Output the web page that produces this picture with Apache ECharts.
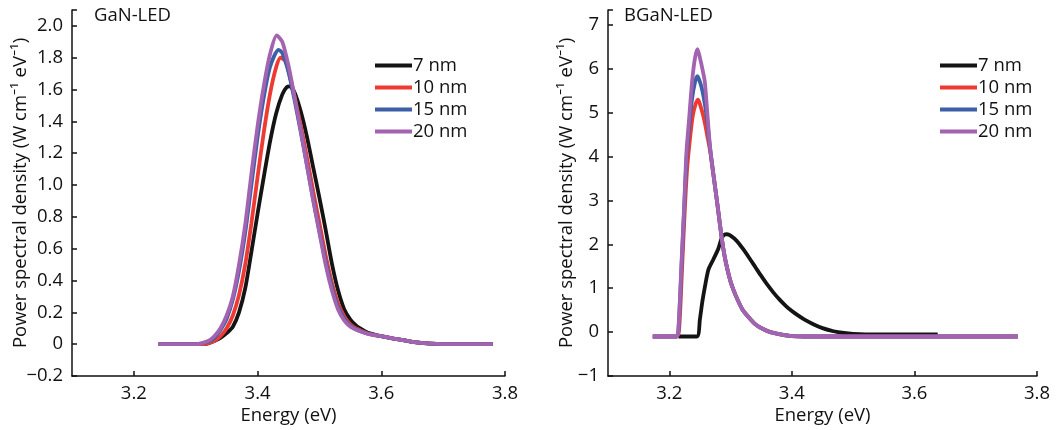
<!DOCTYPE html>
<html>
<head>
<meta charset="utf-8">
<script src="https://cdn.jsdelivr.net/npm/echarts@6/dist/echarts.min.js"></script>
<style>
html,body{margin:0;padding:0;background:#fff;}
#chart{width:1064px;height:430px;}
</style>
</head>
<body>
<div id="chart"></div>
<script>
// ---------- Data ----------
const seriesNames = ['7 nm', '10 nm', '15 nm', '20 nm'];
const seriesColors = ['#141414', '#ee3a33', '#3d5fa8', '#a263b1'];

const panelTitles = ['GaN-LED', 'BGaN-LED'];
const xTicks = [3.2, 3.4, 3.6, 3.8];
const ganYTicks = [-0.2, 0, 0.2, 0.4, 0.6, 0.8, 1.0, 1.2, 1.4, 1.6, 1.8, 2.0];
const bganYTicks = [-1, 0, 1, 2, 3, 4, 5, 6, 7];

// GaN-LED spectra [energy eV, PSD]
const gan7 = [[3.24,0],[3.31,0],[3.32,0.005],[3.33,0.02],[3.34,0.04],[3.35,0.07],[3.36,0.11],[3.37,0.20],[3.38,0.35],[3.39,0.58],[3.40,0.82],[3.41,1.05],[3.42,1.27],[3.43,1.45],[3.44,1.57],[3.447,1.615],[3.452,1.62],[3.46,1.58],[3.47,1.46],[3.48,1.30],[3.49,1.11],[3.50,0.92],[3.51,0.72],[3.52,0.51],[3.53,0.34],[3.54,0.22],[3.55,0.155],[3.56,0.115],[3.57,0.09],[3.58,0.07],[3.60,0.05],[3.62,0.035],[3.65,0.015],[3.68,0.003],[3.70,0],[3.78,0]];
const gan10 = [[3.24,0],[3.31,0],[3.33,0.02],[3.34,0.05],[3.35,0.10],[3.36,0.18],[3.37,0.31],[3.38,0.50],[3.39,0.76],[3.40,1.05],[3.41,1.33],[3.42,1.57],[3.43,1.74],[3.437,1.80],[3.445,1.78],[3.45,1.72],[3.46,1.55],[3.47,1.37],[3.48,1.17],[3.49,0.96],[3.50,0.76],[3.51,0.56],[3.52,0.39],[3.53,0.26],[3.54,0.175],[3.55,0.125],[3.56,0.097],[3.57,0.08],[3.58,0.065],[3.60,0.05],[3.62,0.035],[3.65,0.015],[3.68,0.003],[3.70,0],[3.78,0]];
const gan15 = [[3.24,0],[3.30,0],[3.32,0.015],[3.33,0.04],[3.34,0.09],[3.35,0.16],[3.36,0.28],[3.37,0.46],[3.38,0.70],[3.39,1.00],[3.40,1.30],[3.41,1.55],[3.42,1.74],[3.434,1.85],[3.44,1.83],[3.45,1.71],[3.46,1.53],[3.47,1.33],[3.48,1.12],[3.49,0.91],[3.50,0.71],[3.51,0.52],[3.52,0.36],[3.53,0.235],[3.54,0.16],[3.55,0.115],[3.56,0.092],[3.57,0.077],[3.58,0.064],[3.60,0.05],[3.62,0.035],[3.65,0.015],[3.68,0.003],[3.70,0],[3.78,0]];
const gan20 = [[3.24,0],[3.30,0],[3.32,0.02],[3.33,0.05],[3.34,0.10],[3.35,0.18],[3.36,0.30],[3.37,0.50],[3.38,0.75],[3.39,1.07],[3.40,1.37],[3.41,1.62],[3.42,1.82],[3.431,1.94],[3.44,1.90],[3.45,1.75],[3.46,1.55],[3.47,1.34],[3.48,1.12],[3.49,0.90],[3.50,0.70],[3.51,0.50],[3.52,0.34],[3.53,0.22],[3.54,0.15],[3.55,0.11],[3.56,0.09],[3.57,0.075],[3.58,0.063],[3.60,0.05],[3.62,0.035],[3.65,0.015],[3.68,0.003],[3.70,0],[3.78,0]];

// BGaN-LED spectra [energy eV, PSD]
const bgan7 = [[3.215,-0.1],[3.245,-0.1],[3.250,0.3],[3.254,0.7],[3.259,1.1],[3.264,1.43],[3.272,1.66],[3.280,1.9],[3.285,2.12],[3.290,2.22],[3.294,2.23],[3.300,2.2],[3.310,2.08],[3.320,1.9],[3.330,1.7],[3.340,1.49],[3.350,1.28],[3.360,1.08],[3.370,0.9],[3.380,0.74],[3.390,0.6],[3.400,0.48],[3.410,0.38],[3.420,0.29],[3.435,0.18],[3.450,0.09],[3.468,0.02],[3.485,-0.02],[3.500,-0.04],[3.520,-0.05],[3.638,-0.05]];
const bgan10 = [[3.173,-0.1],[3.212,-0.1],[3.216,0.05],[3.221,1.5],[3.225,2.7],[3.229,3.7],[3.233,4.3],[3.238,4.9],[3.243,5.2],[3.247,5.3],[3.251,5.15],[3.255,4.95],[3.259,4.7],[3.263,4.4],[3.267,4.1],[3.270,3.8],[3.275,3.28],[3.280,2.75],[3.285,2.2],[3.290,1.75],[3.295,1.42],[3.300,1.15],[3.305,0.95],[3.312,0.72],[3.320,0.5],[3.332,0.3],[3.342,0.16],[3.353,0.07],[3.365,0.0],[3.381,-0.05],[3.400,-0.09],[3.420,-0.1],[3.769,-0.1]];
const bgan15 = [[3.173,-0.1],[3.212,-0.1],[3.215,0.05],[3.220,1.5],[3.224,2.7],[3.228,3.9],[3.232,4.6],[3.237,5.3],[3.242,5.7],[3.246,5.83],[3.250,5.7],[3.254,5.5],[3.258,5.2],[3.262,4.8],[3.266,4.25],[3.270,3.8],[3.275,3.28],[3.280,2.75],[3.285,2.2],[3.290,1.75],[3.295,1.42],[3.300,1.15],[3.305,0.95],[3.312,0.72],[3.320,0.5],[3.332,0.3],[3.342,0.16],[3.353,0.07],[3.365,0.0],[3.381,-0.05],[3.400,-0.09],[3.420,-0.1],[3.769,-0.1]];
const bgan20 = [[3.173,-0.1],[3.212,-0.1],[3.215,0.1],[3.220,1.6],[3.224,2.8],[3.228,4.1],[3.232,4.8],[3.2375,5.75],[3.242,6.25],[3.246,6.45],[3.250,6.25],[3.254,6.0],[3.258,5.7],[3.262,5.0],[3.266,4.3],[3.270,3.8],[3.275,3.28],[3.280,2.75],[3.285,2.2],[3.290,1.75],[3.295,1.42],[3.300,1.15],[3.305,0.95],[3.312,0.72],[3.320,0.5],[3.332,0.3],[3.342,0.16],[3.353,0.07],[3.365,0.0],[3.381,-0.05],[3.400,-0.09],[3.420,-0.1],[3.769,-0.1]];

const ganData = [gan7, gan10, gan15, gan20];
const bganData = [bgan7, bgan10, bgan15, bgan20];

// ---------- Chart ----------
const FONT = '"Open Sans", "Noto Sans", sans-serif';
const FS = 18.5;
const minus = s => String(s).replace('-', '\u2212');

function xAxisCfg(gridIndex) {
  return {
    type: 'value', gridIndex, min: 3.1, max: 3.8,
    name: 'Energy (eV)', nameLocation: 'middle', nameGap: 30, nameMoveOverlap: false,
    nameTextStyle: { fontFamily: FONT, fontSize: FS, color: '#111' },
    axisLine: { show: true, onZero: false, lineStyle: { color: '#111', width: 1.5 } },
    axisTick: { show: true, inside: true, length: 5, customValues: xTicks, lineStyle: { color: '#111', width: 1.5 } },
    axisLabel: { customValues: xTicks, margin: 8, fontFamily: FONT, fontSize: FS, color: '#111', formatter: v => v.toFixed(1) },
    splitLine: { show: false }
  };
}
function yAxisCfg(gridIndex, min, max, ticks, fmt, gap) {
  return {
    type: 'value', gridIndex, min, max,
    name: 'Power spectral density (W cm\u207B\u00B9 eV\u207B\u00B9)', nameLocation: 'middle', nameGap: gap, nameMoveOverlap: false,
    nameTextStyle: { fontFamily: FONT, fontSize: FS, color: '#111' },
    axisLine: { show: true, onZero: false, lineStyle: { color: '#111', width: 1.5 } },
    axisTick: { show: true, inside: true, length: 5, customValues: ticks.concat([max]), lineStyle: { color: '#111', width: 1.5 } },
    axisLabel: { customValues: ticks, margin: 9, fontFamily: FONT, fontSize: FS, color: '#111', formatter: fmt },
    splitLine: { show: false }
  };
}

const series = [];
ganData.forEach((d, i) => series.push({
  name: seriesNames[i], type: 'line', xAxisIndex: 0, yAxisIndex: 0, data: d,
  showSymbol: false, smooth: 0.25, lineStyle: { width: 3.8, color: seriesColors[i] },
  itemStyle: { color: seriesColors[i] }, z: 2 + i
}));
bganData.forEach((d, i) => series.push({
  name: seriesNames[i], type: 'line', xAxisIndex: 1, yAxisIndex: 1, data: d,
  showSymbol: false, smooth: 0.25, lineStyle: { width: 3.8, color: seriesColors[i] },
  itemStyle: { color: seriesColors[i] }, z: 2 + i
}));

function legendCfg(left) {
  return {
    data: seriesNames, orient: 'vertical', left, top: 51,
    icon: 'rect', itemWidth: 37, itemHeight: 4, itemGap: 3,
    textStyle: { fontFamily: FONT, fontSize: FS, color: '#111', lineHeight: 18, padding: [0, 0, 0, -4] },
    selectedMode: false
  };
}

const option = {
  animation: false,
  backgroundColor: '#fff',
  grid: [
    { left: 72, right: 559, top: 10, bottom: 53 },
    { left: 608, right: 27, top: 10, bottom: 53 }
  ],
  xAxis: [xAxisCfg(0), xAxisCfg(1)],
  yAxis: [
    yAxisCfg(0, -0.2, 2.1, ganYTicks, v => v === 0 ? '0' : minus(v.toFixed(1)), 42),
    yAxisCfg(1, -1, 7.34, bganYTicks, v => minus(v), 32)
  ],
  legend: [legendCfg(370), legendCfg(935)],
  graphic: [
    { type: 'text', left: 94, top: 6, style: { text: panelTitles[0], fontFamily: FONT, fontSize: FS, fill: '#111' } },
    { type: 'text', left: 624, top: 6, style: { text: panelTitles[1], fontFamily: FONT, fontSize: FS, fill: '#111' } }
  ],
  series
};

const chart = echarts.init(document.getElementById('chart'), null, { renderer: 'canvas' });
chart.setOption(option);
</script>
</body>
</html>
